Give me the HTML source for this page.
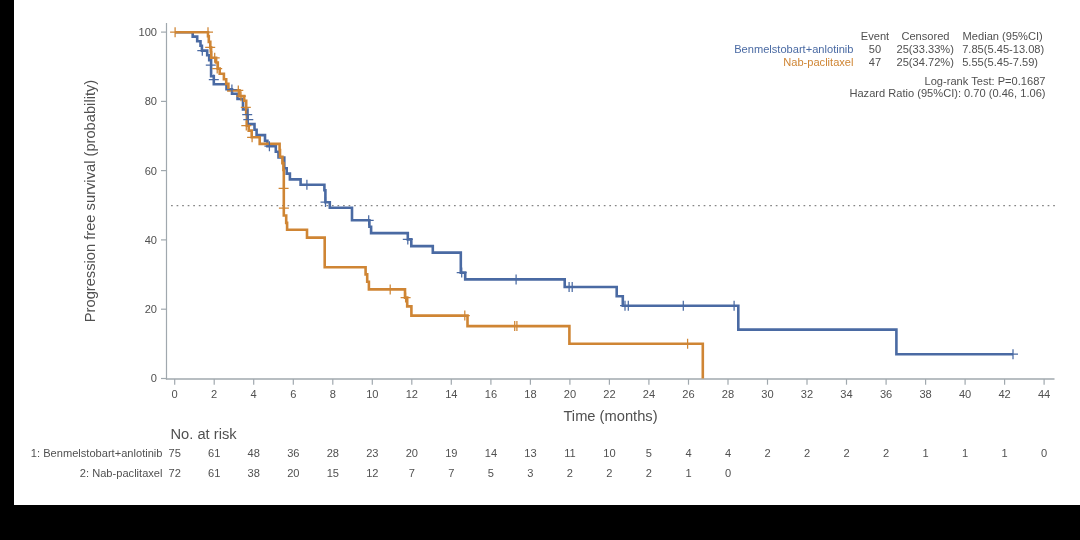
<!DOCTYPE html>
<html><head><meta charset="utf-8"><style>
html,body{margin:0;padding:0;background:#000;}
body{width:1080px;height:540px;overflow:hidden;position:relative;}
#w{position:absolute;left:14px;top:0;width:1066px;height:505px;background:#fff;}
svg{position:absolute;left:0;top:0;will-change:transform;}
.t{font-family:"Liberation Sans",sans-serif;font-size:11.1px;fill:#505050;}
.big{font-family:"Liberation Sans",sans-serif;font-size:14.7px;fill:#505050;}
</style></head><body>
<div id="w"></div>
<svg width="1080" height="540" viewBox="0 0 1080 540">
<line x1="166.5" y1="23" x2="166.5" y2="379.6" stroke="#a0a8ae" stroke-width="1.2"/>
<line x1="165.9" y1="379" x2="1054.5" y2="379" stroke="#a0a8ae" stroke-width="1.3"/>
<line x1="161" y1="378.5" x2="166.6" y2="378.5" stroke="#a0a8ae" stroke-width="1.2"/>
<text x="157" y="382.4" text-anchor="end" class="t">0</text>
<line x1="161" y1="309.2" x2="166.6" y2="309.2" stroke="#a0a8ae" stroke-width="1.2"/>
<text x="157" y="313.1" text-anchor="end" class="t">20</text>
<line x1="161" y1="239.9" x2="166.6" y2="239.9" stroke="#a0a8ae" stroke-width="1.2"/>
<text x="157" y="243.8" text-anchor="end" class="t">40</text>
<line x1="161" y1="170.6" x2="166.6" y2="170.6" stroke="#a0a8ae" stroke-width="1.2"/>
<text x="157" y="174.5" text-anchor="end" class="t">60</text>
<line x1="161" y1="101.4" x2="166.6" y2="101.4" stroke="#a0a8ae" stroke-width="1.2"/>
<text x="157" y="105.3" text-anchor="end" class="t">80</text>
<line x1="161" y1="32.1" x2="166.6" y2="32.1" stroke="#a0a8ae" stroke-width="1.2"/>
<text x="157" y="36.0" text-anchor="end" class="t">100</text>
<line x1="174.7" y1="379" x2="174.7" y2="384.7" stroke="#a0a8ae" stroke-width="1.2"/>
<text x="174.7" y="398" text-anchor="middle" class="t">0</text>
<line x1="214.2" y1="379" x2="214.2" y2="384.7" stroke="#a0a8ae" stroke-width="1.2"/>
<text x="214.2" y="398" text-anchor="middle" class="t">2</text>
<line x1="253.7" y1="379" x2="253.7" y2="384.7" stroke="#a0a8ae" stroke-width="1.2"/>
<text x="253.7" y="398" text-anchor="middle" class="t">4</text>
<line x1="293.3" y1="379" x2="293.3" y2="384.7" stroke="#a0a8ae" stroke-width="1.2"/>
<text x="293.3" y="398" text-anchor="middle" class="t">6</text>
<line x1="332.8" y1="379" x2="332.8" y2="384.7" stroke="#a0a8ae" stroke-width="1.2"/>
<text x="332.8" y="398" text-anchor="middle" class="t">8</text>
<line x1="372.3" y1="379" x2="372.3" y2="384.7" stroke="#a0a8ae" stroke-width="1.2"/>
<text x="372.3" y="398" text-anchor="middle" class="t">10</text>
<line x1="411.8" y1="379" x2="411.8" y2="384.7" stroke="#a0a8ae" stroke-width="1.2"/>
<text x="411.8" y="398" text-anchor="middle" class="t">12</text>
<line x1="451.3" y1="379" x2="451.3" y2="384.7" stroke="#a0a8ae" stroke-width="1.2"/>
<text x="451.3" y="398" text-anchor="middle" class="t">14</text>
<line x1="490.9" y1="379" x2="490.9" y2="384.7" stroke="#a0a8ae" stroke-width="1.2"/>
<text x="490.9" y="398" text-anchor="middle" class="t">16</text>
<line x1="530.4" y1="379" x2="530.4" y2="384.7" stroke="#a0a8ae" stroke-width="1.2"/>
<text x="530.4" y="398" text-anchor="middle" class="t">18</text>
<line x1="569.9" y1="379" x2="569.9" y2="384.7" stroke="#a0a8ae" stroke-width="1.2"/>
<text x="569.9" y="398" text-anchor="middle" class="t">20</text>
<line x1="609.4" y1="379" x2="609.4" y2="384.7" stroke="#a0a8ae" stroke-width="1.2"/>
<text x="609.4" y="398" text-anchor="middle" class="t">22</text>
<line x1="648.9" y1="379" x2="648.9" y2="384.7" stroke="#a0a8ae" stroke-width="1.2"/>
<text x="648.9" y="398" text-anchor="middle" class="t">24</text>
<line x1="688.5" y1="379" x2="688.5" y2="384.7" stroke="#a0a8ae" stroke-width="1.2"/>
<text x="688.5" y="398" text-anchor="middle" class="t">26</text>
<line x1="728.0" y1="379" x2="728.0" y2="384.7" stroke="#a0a8ae" stroke-width="1.2"/>
<text x="728.0" y="398" text-anchor="middle" class="t">28</text>
<line x1="767.5" y1="379" x2="767.5" y2="384.7" stroke="#a0a8ae" stroke-width="1.2"/>
<text x="767.5" y="398" text-anchor="middle" class="t">30</text>
<line x1="807.0" y1="379" x2="807.0" y2="384.7" stroke="#a0a8ae" stroke-width="1.2"/>
<text x="807.0" y="398" text-anchor="middle" class="t">32</text>
<line x1="846.5" y1="379" x2="846.5" y2="384.7" stroke="#a0a8ae" stroke-width="1.2"/>
<text x="846.5" y="398" text-anchor="middle" class="t">34</text>
<line x1="886.1" y1="379" x2="886.1" y2="384.7" stroke="#a0a8ae" stroke-width="1.2"/>
<text x="886.1" y="398" text-anchor="middle" class="t">36</text>
<line x1="925.6" y1="379" x2="925.6" y2="384.7" stroke="#a0a8ae" stroke-width="1.2"/>
<text x="925.6" y="398" text-anchor="middle" class="t">38</text>
<line x1="965.1" y1="379" x2="965.1" y2="384.7" stroke="#a0a8ae" stroke-width="1.2"/>
<text x="965.1" y="398" text-anchor="middle" class="t">40</text>
<line x1="1004.6" y1="379" x2="1004.6" y2="384.7" stroke="#a0a8ae" stroke-width="1.2"/>
<text x="1004.6" y="398" text-anchor="middle" class="t">42</text>
<line x1="1044.1" y1="379" x2="1044.1" y2="384.7" stroke="#a0a8ae" stroke-width="1.2"/>
<text x="1044.1" y="398" text-anchor="middle" class="t">44</text>
<text x="610.5" y="421" text-anchor="middle" class="big">Time (months)</text>
<text transform="translate(95,201) rotate(-90)" text-anchor="middle" class="big">Progression free survival (probability)</text>
<line x1="171.05" y1="205.6" x2="1055.5" y2="205.6" stroke="#858585" stroke-width="1.3" stroke-dasharray="1.7,3.848"/>
<path d="M175,32.2 H192.7 V36.6 H197.2 V41.3 H200.5 V45.8 H201.9 V50.6 H207.2 V55.3 H209.2 V60.3 H211.1 V76.2 H213.8 V84.2 H226.5 V89.2 H232 V93.7 H237.5 V99 H243 V109.5 H247.5 V124.1 H254.5 V129.8 H256.6 V135.1 H265 V140.9 H267.4 V146.2 H275.8 V151.7 H278.5 V157.5 H284.3 V168.3 H286.7 V173.6 H289.9 V179.4 H300.6 V184.7 H324.4 V190.3 H325.4 V202.2 H329.8 V207.8 H352 V220.3 H369.4 V226.7 H371.1 V233.1 H407.8 V239.4 H411.3 V246.1 H432.8 V252.6 H460.8 V272.6 H465.2 V279.4 H564.7 V287 H616.7 V296.3 H622.8 V305.7 H738.3 V329.6 H896.4 V354.2 H1013" stroke="#4a6aa3" stroke-width="2.6" fill="none" stroke-linejoin="miter" stroke-linecap="butt"/>
<path d="M175,32.2 H208 V36.3 H208.8 V41.9 H210.3 V47.4 H211.1 V52.4 H211.3 V57.8 H216.1 V62.5 H217.8 V68.6 H219.7 V73.8 H223.9 V79.2 H226.2 V83.9 H228.4 V90.4 H239.5 V96.1 H244.2 V100.8 H246.2 V113.9 H246.9 V125.7 H248.7 V130.6 H251.7 V137.2 H259.7 V143.9 H279.6 V150 H280 V156.8 H282.4 V163.1 H283.4 V170 H283.8 V215.5 H286.2 V222.9 H287.1 V229.8 H307 V237.6 H324.7 V267.2 H365.6 V274.4 H367.2 V281.7 H368.9 V289.4 H405 V297.6 H407.2 V306.4 H411.4 V315.6 H467.5 V326.1 H569.4 V343.7 H702.8 V378.5" stroke="#cf8534" stroke-width="2.6" fill="none" stroke-linejoin="miter" stroke-linecap="butt"/>
<path d="M197.3,50.7H207.3M202.3,45.7V55.7" stroke="#4a6aa3" stroke-width="1.25" fill="none"/>
<path d="M205.8,65.0H215.8M210.8,60.0V70.0" stroke="#4a6aa3" stroke-width="1.25" fill="none"/>
<path d="M208.8,79.5H218.8M213.8,74.5V84.5" stroke="#4a6aa3" stroke-width="1.25" fill="none"/>
<path d="M226.9,89.5H236.9M231.9,84.5V94.5" stroke="#4a6aa3" stroke-width="1.25" fill="none"/>
<path d="M242.2,114.5H252.2M247.2,109.5V119.5" stroke="#4a6aa3" stroke-width="1.25" fill="none"/>
<path d="M243.3,119.5H253.3M248.3,114.5V124.5" stroke="#4a6aa3" stroke-width="1.25" fill="none"/>
<path d="M264.4,146.2H274.4M269.4,141.2V151.2" stroke="#4a6aa3" stroke-width="1.25" fill="none"/>
<path d="M301.9,184.7H311.9M306.9,179.7V189.7" stroke="#4a6aa3" stroke-width="1.25" fill="none"/>
<path d="M320.5,202.0H330.5M325.5,197.0V207.0" stroke="#4a6aa3" stroke-width="1.25" fill="none"/>
<path d="M363.7,220.3H373.7M368.7,215.3V225.3" stroke="#4a6aa3" stroke-width="1.25" fill="none"/>
<path d="M402.8,239.4H412.8M407.8,234.4V244.4" stroke="#4a6aa3" stroke-width="1.25" fill="none"/>
<path d="M456.7,272.6H466.7M461.7,267.6V277.6" stroke="#4a6aa3" stroke-width="1.25" fill="none"/>
<path d="M511.1,279.4H521.1M516.1,274.4V284.4" stroke="#4a6aa3" stroke-width="1.25" fill="none"/>
<path d="M564.1,287.0H574.1M569.1,282.0V292.0" stroke="#4a6aa3" stroke-width="1.25" fill="none"/>
<path d="M567.2,287.0H577.2M572.2,282.0V292.0" stroke="#4a6aa3" stroke-width="1.25" fill="none"/>
<path d="M620.0,305.7H630.0M625.0,300.7V310.7" stroke="#4a6aa3" stroke-width="1.25" fill="none"/>
<path d="M623.3,305.7H633.3M628.3,300.7V310.7" stroke="#4a6aa3" stroke-width="1.25" fill="none"/>
<path d="M678.3,305.7H688.3M683.3,300.7V310.7" stroke="#4a6aa3" stroke-width="1.25" fill="none"/>
<path d="M729.1,305.7H739.1M734.1,300.7V310.7" stroke="#4a6aa3" stroke-width="1.25" fill="none"/>
<path d="M1008.0,354.2H1018.0M1013.0,349.2V359.2" stroke="#4a6aa3" stroke-width="1.25" fill="none"/>
<path d="M170.1,32.2H180.1M175.1,27.2V37.2" stroke="#cf8534" stroke-width="1.25" fill="none"/>
<path d="M203.0,32.2H213.0M208.0,27.2V37.2" stroke="#cf8534" stroke-width="1.25" fill="none"/>
<path d="M205.2,47.4H215.2M210.2,42.4V52.4" stroke="#cf8534" stroke-width="1.25" fill="none"/>
<path d="M209.7,57.8H219.7M214.7,52.8V62.8" stroke="#cf8534" stroke-width="1.25" fill="none"/>
<path d="M212.2,68.6H222.2M217.2,63.6V73.6" stroke="#cf8534" stroke-width="1.25" fill="none"/>
<path d="M233.3,90.4H243.3M238.3,85.4V95.4" stroke="#cf8534" stroke-width="1.25" fill="none"/>
<path d="M240.8,107.4H250.8M245.8,102.4V112.4" stroke="#cf8534" stroke-width="1.25" fill="none"/>
<path d="M241.3,125.5H251.3M246.3,120.5V130.5" stroke="#cf8534" stroke-width="1.25" fill="none"/>
<path d="M247.1,137.3H257.1M252.1,132.3V142.3" stroke="#cf8534" stroke-width="1.25" fill="none"/>
<path d="M278.6,188.4H288.6M283.6,183.4V193.4" stroke="#cf8534" stroke-width="1.25" fill="none"/>
<path d="M278.9,208.0H288.9M283.9,203.0V213.0" stroke="#cf8534" stroke-width="1.25" fill="none"/>
<path d="M236.0,96.2H246.0M241.0,91.2V101.2" stroke="#cf8534" stroke-width="1.25" fill="none"/>
<path d="M385.2,289.4H395.2M390.2,284.4V294.4" stroke="#cf8534" stroke-width="1.25" fill="none"/>
<path d="M400.6,297.6H410.6M405.6,292.6V302.6" stroke="#cf8534" stroke-width="1.25" fill="none"/>
<path d="M459.8,315.6H469.8M464.8,310.6V320.6" stroke="#cf8534" stroke-width="1.25" fill="none"/>
<path d="M509.7,326.1H519.7M514.7,321.1V331.1" stroke="#cf8534" stroke-width="1.25" fill="none"/>
<path d="M511.9,326.1H521.9M516.9,321.1V331.1" stroke="#cf8534" stroke-width="1.25" fill="none"/>
<path d="M682.6,343.7H692.6M687.6,338.7V348.7" stroke="#cf8534" stroke-width="1.25" fill="none"/>
<text x="875" y="39.8" text-anchor="middle" class="t">Event</text>
<text x="925.5" y="39.8" text-anchor="middle" class="t">Censored</text>
<text x="962.6" y="39.8" class="t">Median (95%CI)</text>
<text x="853.5" y="53" text-anchor="end" class="t" fill="#4a6aa3" style="fill:#4a6aa3">Benmelstobart+anlotinib</text>
<text x="875" y="53" text-anchor="middle" class="t">50</text>
<text x="925.2" y="53" text-anchor="middle" class="t">25(33.33%)</text>
<text x="962.2" y="53" class="t">7.85(5.45-13.08)</text>
<text x="853.5" y="66" text-anchor="end" class="t" style="fill:#cf8534">Nab-paclitaxel</text>
<text x="875" y="66" text-anchor="middle" class="t">47</text>
<text x="925.2" y="66" text-anchor="middle" class="t">25(34.72%)</text>
<text x="962.2" y="66" class="t">5.55(5.45-7.59)</text>
<text x="1045.5" y="84.6" text-anchor="end" class="t">Log-rank Test: P=0.1687</text>
<text x="1045.5" y="97.2" text-anchor="end" class="t">Hazard Ratio (95%CI): 0.70 (0.46, 1.06)</text>
<text x="170.5" y="438.8" class="big">No. at risk</text>
<text x="162.5" y="456.6" text-anchor="end" class="t">1: Benmelstobart+anlotinib</text>
<text x="162.5" y="476.6" text-anchor="end" class="t">2: Nab-paclitaxel</text>
<text x="174.7" y="456.6" text-anchor="middle" class="t">75</text>
<text x="214.2" y="456.6" text-anchor="middle" class="t">61</text>
<text x="253.7" y="456.6" text-anchor="middle" class="t">48</text>
<text x="293.3" y="456.6" text-anchor="middle" class="t">36</text>
<text x="332.8" y="456.6" text-anchor="middle" class="t">28</text>
<text x="372.3" y="456.6" text-anchor="middle" class="t">23</text>
<text x="411.8" y="456.6" text-anchor="middle" class="t">20</text>
<text x="451.3" y="456.6" text-anchor="middle" class="t">19</text>
<text x="490.9" y="456.6" text-anchor="middle" class="t">14</text>
<text x="530.4" y="456.6" text-anchor="middle" class="t">13</text>
<text x="569.9" y="456.6" text-anchor="middle" class="t">11</text>
<text x="609.4" y="456.6" text-anchor="middle" class="t">10</text>
<text x="648.9" y="456.6" text-anchor="middle" class="t">5</text>
<text x="688.5" y="456.6" text-anchor="middle" class="t">4</text>
<text x="728.0" y="456.6" text-anchor="middle" class="t">4</text>
<text x="767.5" y="456.6" text-anchor="middle" class="t">2</text>
<text x="807.0" y="456.6" text-anchor="middle" class="t">2</text>
<text x="846.5" y="456.6" text-anchor="middle" class="t">2</text>
<text x="886.1" y="456.6" text-anchor="middle" class="t">2</text>
<text x="925.6" y="456.6" text-anchor="middle" class="t">1</text>
<text x="965.1" y="456.6" text-anchor="middle" class="t">1</text>
<text x="1004.6" y="456.6" text-anchor="middle" class="t">1</text>
<text x="1044.1" y="456.6" text-anchor="middle" class="t">0</text>
<text x="174.7" y="476.6" text-anchor="middle" class="t">72</text>
<text x="214.2" y="476.6" text-anchor="middle" class="t">61</text>
<text x="253.7" y="476.6" text-anchor="middle" class="t">38</text>
<text x="293.3" y="476.6" text-anchor="middle" class="t">20</text>
<text x="332.8" y="476.6" text-anchor="middle" class="t">15</text>
<text x="372.3" y="476.6" text-anchor="middle" class="t">12</text>
<text x="411.8" y="476.6" text-anchor="middle" class="t">7</text>
<text x="451.3" y="476.6" text-anchor="middle" class="t">7</text>
<text x="490.9" y="476.6" text-anchor="middle" class="t">5</text>
<text x="530.4" y="476.6" text-anchor="middle" class="t">3</text>
<text x="569.9" y="476.6" text-anchor="middle" class="t">2</text>
<text x="609.4" y="476.6" text-anchor="middle" class="t">2</text>
<text x="648.9" y="476.6" text-anchor="middle" class="t">2</text>
<text x="688.5" y="476.6" text-anchor="middle" class="t">1</text>
<text x="728.0" y="476.6" text-anchor="middle" class="t">0</text>
</svg>
</body></html>
